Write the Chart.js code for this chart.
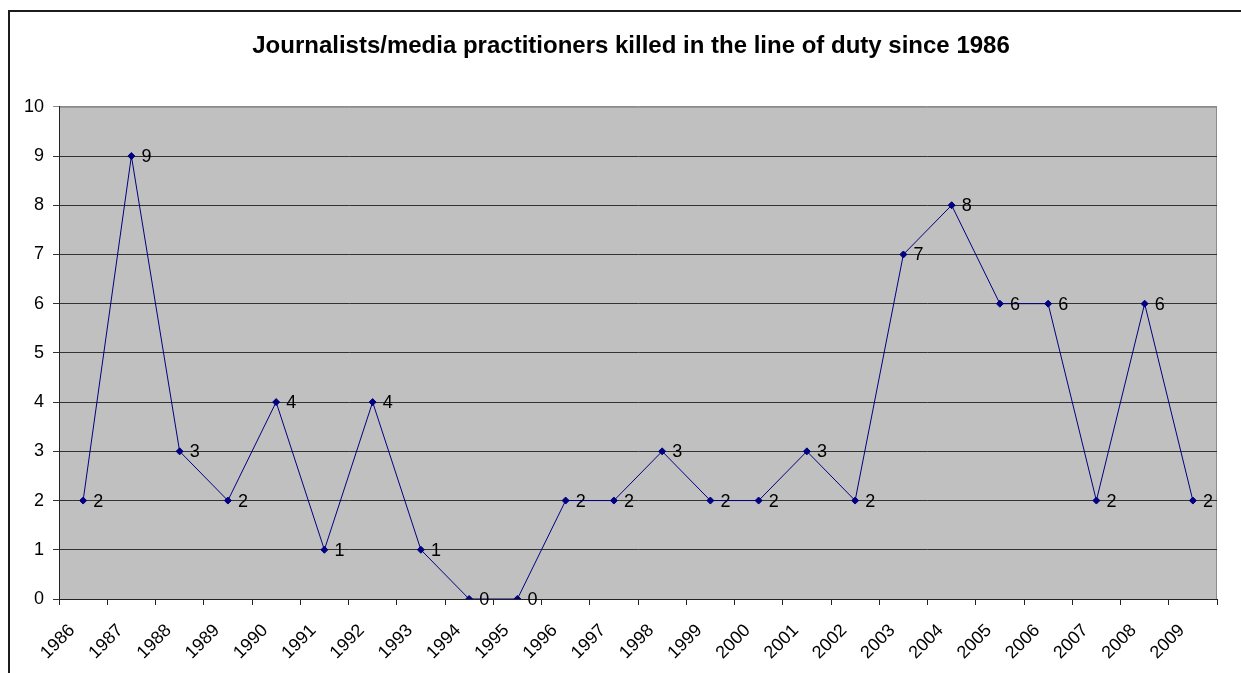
<!DOCTYPE html>
<html>
<head>
<meta charset="utf-8">
<script src="https://cdn.jsdelivr.net/npm/chart.js@4"></script>
<style>
  body { margin: 0; background: #fff; overflow: hidden; }
  #frame { position: absolute; left: 8px; top: 10px; width: 1300px; height: 700px;
           border-top: 2px solid #1c1c1c; border-left: 2px solid #1c1c1c; pointer-events: none; }
  canvas { position: absolute; left: 0; top: 0; }
</style>
</head>
<body>
<canvas id="killedChart" width="1241" height="673"></canvas>
<div id="frame"></div>
<script>
// data
const years = ['1986', '1987', '1988', '1989', '1990', '1991', '1992', '1993', '1994', '1995', '1996', '1997',
               '1998', '1999', '2000', '2001', '2002', '2003', '2004', '2005', '2006', '2007', '2008', '2009'];
const killed = [2, 9, 3, 2, 4, 1, 4, 1, 0, 0, 2, 2, 3, 2, 2, 3, 2, 7, 8, 6, 6, 2, 6, 2];
const yTicks = [0, 1, 2, 3, 4, 5, 6, 7, 8, 9, 10];

const font = '"Liberation Sans", Arial, sans-serif';

// grey plot area with a light border, like the old Excel look
const plotBackground = {
    id: 'plotBackground',
    afterLayout(chart) {
        // centre the title a bit further right, over the plot area
        if (chart.titleBlock) chart.titleBlock.left = 45;
    },
    beforeDraw(chart) {
        const { ctx, chartArea: a } = chart;
        ctx.save();
        ctx.fillStyle = '#c0c0c0';
        ctx.fillRect(a.left, a.top, a.right - a.left, a.bottom - a.top);
        ctx.strokeStyle = '#8c8c8c';
        ctx.lineWidth = 1;
        ctx.strokeRect(a.left + 0.5, a.top + 0.5, a.right - a.left - 1, a.bottom - a.top);
        ctx.restore();
    }
};

// value next to each point
const valueLabels = {
    id: 'valueLabels',
    afterDatasetsDraw(chart) {
        const ctx = chart.ctx;
        const meta = chart.getDatasetMeta(0);
        ctx.save();
        ctx.font = '18px ' + font;
        ctx.fillStyle = '#000';
        ctx.textBaseline = 'middle';
        ctx.textAlign = 'left';
        meta.data.forEach((pt, i) => ctx.fillText(String(killed[i]), pt.x + 10, pt.y + 1));
        ctx.restore();
    }
};

const ctx = document.getElementById('killedChart').getContext('2d');
new Chart(ctx, {
    type: 'line',
    data: {
        labels: years,
        datasets: [{
            data: killed,
            borderColor: '#000080',
            backgroundColor: '#000080',
            borderWidth: 1,
            pointStyle: 'rectRot',
            pointRadius: 3.5,
            pointBackgroundColor: '#000080',
            pointBorderColor: '#000080',
            tension: 0,
            fill: false
        }]
    },
    options: {
        responsive: false,
        animation: false,
        devicePixelRatio: 1,
        layout: { padding: { left: 0, right: 24, top: 0, bottom: 0 } },
        plugins: {
            legend: { display: false },
            tooltip: { enabled: false },
            title: {
                display: true,
                text: 'Journalists/media practitioners killed in the line of duty since 1986',
                color: '#000',
                font: { family: font, size: 24, weight: 'bold' },
                padding: { top: 32, bottom: 46 }
            }
        },
        scales: {
            x: {
                offset: true,
                afterFit: s => { s.height = 74; },
                grid: { offset: true, drawOnChartArea: false, drawTicks: true, tickLength: 6, color: '#222' },
                border: { display: true, color: '#222', width: 1 },
                ticks: { color: '#000', font: { family: font, size: 18 }, minRotation: 45, maxRotation: 45,
                         padding: 15, labelOffset: -11, autoSkip: false }
            },
            y: {
                min: yTicks[0],
                max: yTicks[yTicks.length - 1],
                afterFit: s => { s.width = 59; },
                afterBuildTicks: s => { s.ticks = yTicks.map(v => ({ value: v })); },
                grid: {
                    tickLength: 6,
                    color: c => (c.tick && c.tick.value === 10 ? '#8c8c8c' : '#333')
                },
                border: { display: true, color: '#222', width: 1 },
                ticks: { color: '#000', font: { family: font, size: 18 }, padding: 9 }
            }
        }
    },
    plugins: [plotBackground, valueLabels]
});
</script>
</body>
</html>
